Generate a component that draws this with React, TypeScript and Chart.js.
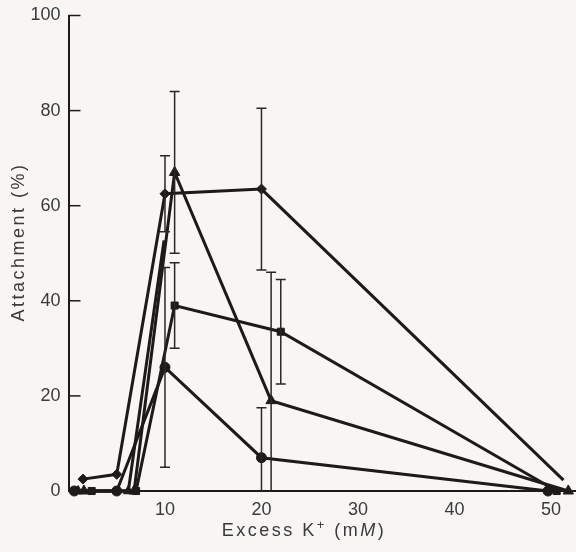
import React, { useEffect, useRef } from 'react';
import { Chart, registerables } from 'chart.js';

Chart.register(...registerables);

// Axis ticks
const xTicks = [10, 20, 30, 40, 50];
const yTicks = [0, 20, 40, 60, 80, 100];

// Series: diamonds
const diamondX = [1.5, 5, 10, 20, 51.3];
const diamondY = [2.5, 3.5, 62.5, 63.5, 2.3];
const diamondErr = [0, 0, 8, 17, 0];

// Series: circles
const circleX = [0.6, 5, 10, 20, 49.7];
const circleY = [0, 0, 26, 7, 0];
const circleErr = [0, 0, 21, 10.5, 0];

// Series: squares
const squareX = [2.4, 7, 11, 22, 50.6];
const squareY = [0, 0, 39, 33.5, 0];
const squareErr = [0, 0, 9, 11, 0];

// Series: triangles
const triangleX = [1.6, 6.8, 11, 21, 51.8];
const triangleY = [0, 0, 67, 19, 0];
const triangleErr = [0, 0, 17, 27, 0];

// Extra rising segment (no top marker)
const extraX = [1.0, 6.2, 9.9];
const extraY = [0, 0, 52.7];

const INK = '#1d1a1a';
const TEXT = '#3a3a3a';
const FONT = '"Liberation Sans", Arial, sans-serif';

const pts = (xs: number[], ys: number[]) => xs.map((x, i) => ({ x, y: ys[i] }));

const seriesErr = [
  { xs: diamondX, ys: diamondY, es: diamondErr },
  { xs: circleX, ys: circleY, es: circleErr },
  { xs: squareX, ys: squareY, es: squareErr },
  { xs: triangleX, ys: triangleY, es: triangleErr },
];

export default function App() {
  const ref = useRef<HTMLCanvasElement | null>(null);

  useEffect(() => {
    if (!ref.current) return;

    const bgPlugin = {
      id: 'bg',
      beforeDraw(chart: any) {
        const ctx = chart.ctx;
        ctx.save();
        ctx.fillStyle = '#f8f6f5';
        ctx.fillRect(0, 0, chart.width, chart.height);
        ctx.restore();
      },
    };

    const decorPlugin = {
      id: 'decor',
      afterDatasetsDraw(chart: any) {
        const ctx = chart.ctx;
        const xs = chart.scales.x;
        const ys = chart.scales.y;
        ctx.save();
        ctx.strokeStyle = '#2a2727';
        ctx.lineWidth = 1.5;
        seriesErr.forEach((s) => {
          s.es.forEach((e, i) => {
            if (!e) return;
            const px = xs.getPixelForValue(s.xs[i]);
            const lo = Math.max(0, s.ys[i] - e);
            const hi = s.ys[i] + e;
            const pTop = ys.getPixelForValue(hi);
            const pBot = ys.getPixelForValue(lo);
            ctx.beginPath();
            ctx.moveTo(px, pTop);
            ctx.lineTo(px, pBot);
            ctx.moveTo(px - 5, pTop);
            ctx.lineTo(px + 5, pTop);
            if (s.ys[i] - e > 0) {
              ctx.moveTo(px - 5, pBot);
              ctx.lineTo(px + 5, pBot);
            }
            ctx.stroke();
          });
        });
        ctx.restore();
      },
      afterDraw(chart: any) {
        const ctx = chart.ctx;
        const ys = chart.scales.y;
        const left = chart.chartArea.left;
        ctx.save();
        ctx.strokeStyle = INK;
        ctx.lineWidth = 1.5;
        yTicks.forEach((v) => {
          if (v === 0) return;
          const py = ys.getPixelForValue(v);
          ctx.beginPath();
          ctx.moveTo(left, py);
          ctx.lineTo(left + 12, py);
          ctx.stroke();
        });
        ctx.fillStyle = TEXT;
        (ctx as any).letterSpacing = '2.5px';
        ctx.font = `18px ${FONT}`;
        ctx.textAlign = 'center';
        ctx.textBaseline = 'middle';
        ctx.save();
        ctx.translate(19, 242);
        ctx.rotate(-Math.PI / 2);
        ctx.fillText('Attachment (%)', 0, 0);
        ctx.restore();

        const parts = [
          { t: 'Excess K', f: `18px ${FONT}`, dy: 0 },
          { t: '+', f: `13px ${FONT}`, dy: -7 },
          { t: ' (m', f: `18px ${FONT}`, dy: 0 },
          { t: 'M', f: `italic 18px ${FONT}`, dy: 0 },
          { t: ')', f: `18px ${FONT}`, dy: 0 },
        ];
        ctx.textAlign = 'left';
        ctx.textBaseline = 'alphabetic';
        let total = 0;
        const widths = parts.map((p) => {
          ctx.font = p.f;
          const w = ctx.measureText(p.t).width;
          total += w;
          return w;
        });
        let x = 304 - total / 2;
        parts.forEach((p, i) => {
          ctx.font = p.f;
          ctx.fillText(p.t, x, 536 + p.dy);
          x += widths[i];
        });
        ctx.restore();
      },
    };

    const mk = (xs: number[], ys: number[], style: string, r: number | number[]) => ({
      data: pts(xs, ys),
      showLine: true,
      borderColor: INK,
      borderWidth: 3,
      pointStyle: style,
      pointRadius: r,
      pointBackgroundColor: INK,
      pointBorderColor: INK,
      pointBorderWidth: 1,
      clip: false,
      tension: 0,
    });

    const chart = new Chart(ref.current, {
      type: 'scatter',
      data: {
        datasets: [
          mk(diamondX, diamondY, 'rectRot', [5, 5, 5, 5, 0]) as any,
          mk(circleX, circleY, 'circle', 5) as any,
          mk(squareX, squareY, 'rect', 5) as any,
          mk(triangleX, triangleY, 'triangle', 6) as any,
          mk(extraX, extraY, 'triangle', [5.5, 5.5, 0]) as any,
        ],
      },
      options: {
        animation: false,
        responsive: true,
        maintainAspectRatio: false,
        layout: { padding: { top: 15.5, left: 0, right: 0, bottom: 0 } },
        plugins: { legend: { display: false }, tooltip: { enabled: false } },
        scales: {
          x: {
            type: 'linear',
            min: 0,
            max: 52.6,
            grid: { display: false, drawTicks: false },
            border: { display: true, color: INK, width: 2 },
            afterBuildTicks: (s: any) => {
              s.ticks = xTicks.map((v) => ({ value: v }));
            },
            afterFit: (s: any) => {
              s.height = 61;
            },
            ticks: {
              color: TEXT,
              padding: 8,
              maxRotation: 0,
              autoSkip: false,
              font: { family: FONT, size: 18 },
            },
          },
          y: {
            type: 'linear',
            min: 0,
            max: 100,
            grid: { display: false, drawTicks: false },
            border: { display: true, color: INK, width: 2 },
            afterBuildTicks: (s: any) => {
              s.ticks = yTicks.map((v) => ({ value: v }));
            },
            afterFit: (s: any) => {
              s.width = 68.5;
              s.paddingTop = 0;
              s.paddingBottom = 0;
            },
            ticks: {
              color: TEXT,
              padding: 8,
              font: { family: FONT, size: 18 },
            },
          },
        },
      },
      plugins: [bgPlugin, decorPlugin],
    } as any);

    return () => chart.destroy();
  }, []);

  return (
    <div
      style={{
        position: 'fixed',
        left: 0,
        top: 0,
        width: 576,
        height: 552,
        overflow: 'hidden',
        background: '#f8f6f5',
      }}
    >
      <div style={{ position: 'relative', width: 583, height: 552 }}>
        <canvas ref={ref} />
      </div>
    </div>
  );
}
